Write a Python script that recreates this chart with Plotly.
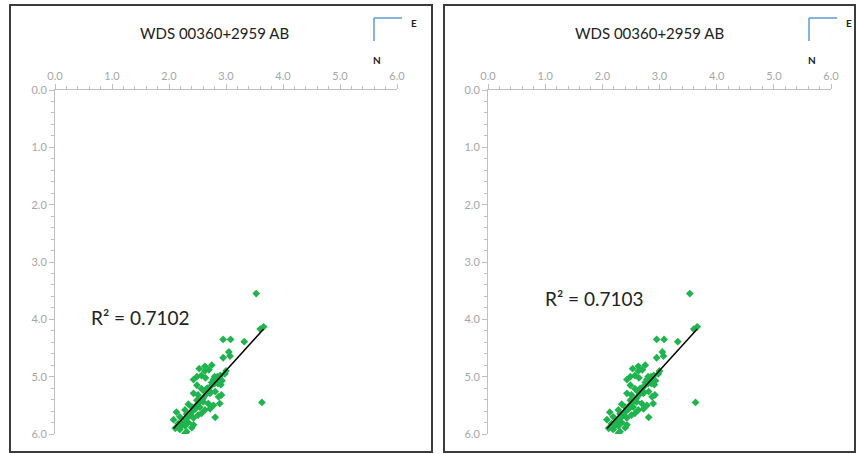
import numpy as np
import plotly.graph_objects as go

W, H = 857, 454

title_text = "WDS 00360+2959 AB"
r2_labels = ["R² = 0.7102", "R² = 0.7103"]
tick_vals = [0, 1, 2, 3, 4, 5, 6]

# Separation components (E, N)
x_vals = [3.53, 3.60, 3.66, 2.95, 3.08, 3.32, 3.05, 2.95, 3.07, 3.63,
          2.63, 2.75, 2.53, 2.63, 2.70, 2.49, 2.57, 2.64, 2.43, 2.80,
          2.85, 2.90, 2.78, 2.83, 2.88, 2.93, 2.80, 2.86, 2.91, 2.75,
          2.49, 2.57, 2.66, 2.72, 2.81, 2.87, 2.92, 2.89, 2.43, 2.51,
          2.49, 2.60, 2.34, 2.40, 2.46, 2.54, 2.63, 2.72, 2.78, 2.69,
          2.28, 2.31, 2.37, 2.43, 2.51, 2.57, 2.81, 2.13, 2.19, 2.08,
          2.16, 2.25, 2.34, 2.28, 2.19, 2.11, 2.31, 2.28, 2.43, 2.40,
          2.55, 2.60, 2.66, 2.70, 2.48, 2.52, 2.58, 2.36, 2.42, 2.22,
          2.26, 2.32, 2.38, 2.45, 2.68, 2.74, 2.62, 2.98, 3.00, 2.84]
y_vals = [3.55, 4.17, 4.13, 4.35, 4.35, 4.39, 4.57, 4.67, 4.64, 5.45,
          4.82, 4.80, 4.86, 4.90, 4.88, 5.00, 4.98, 5.02, 5.05, 5.00,
          5.00, 4.98, 5.05, 5.08, 5.04, 5.07, 5.12, 5.12, 5.14, 5.10,
          5.15, 5.21, 5.21, 5.29, 5.26, 5.35, 5.32, 5.47, 5.29, 5.32,
          5.41, 5.44, 5.48, 5.53, 5.56, 5.53, 5.58, 5.56, 5.50, 5.47,
          5.58, 5.65, 5.66, 5.72, 5.67, 5.64, 5.71, 5.62, 5.70, 5.75,
          5.82, 5.78, 5.80, 5.86, 5.92, 5.90, 5.96, 5.99, 5.84, 5.89,
          5.42, 5.37, 5.30, 5.24, 5.50, 5.46, 5.40, 5.67, 5.59, 5.86,
          5.80, 5.72, 5.63, 5.57, 5.20, 5.16, 5.26, 4.95, 4.90, 5.08]

xa = np.array(x_vals)
ya = np.array(y_vals)
slope, intercept = np.polyfit(xa, ya, 1)
fit_x = np.array([xa.min(), xa.max()])
fit_y = intercept + slope * fit_x

GREEN = "#1FB44E"
AX_COL = "#BFBFBF"
LBL_COL = "#A6A6A6"
FONT = "Lato, 'Open Sans', sans-serif"

def px_x(p):
    return p / W

def px_y(p):
    return 1 - p / H

panels = [
    dict(x0=55, x1=397, box=(10, 432), title_x=215, comp_x=374, r2=(140, 317)),
    dict(x0=488, x1=831, box=(444, 855), title_x=649, comp_x=809, r2=(594, 298)),
]
plot_top, plot_bot = 90, 434

fig = go.Figure()
shapes = []
annotations = []
layout_axes = {}

for i, p in enumerate(panels):
    suf = "" if i == 0 else str(i + 1)
    xa_name = "x" + suf
    ya_name = "y" + suf
    fig.add_trace(go.Scatter(x=x_vals, y=y_vals, mode="markers", xaxis=xa_name, yaxis=ya_name,
                             marker=dict(symbol="diamond", size=6, color=GREEN, line=dict(width=0)),
                             showlegend=False, hoverinfo="x+y"))
    fig.add_trace(go.Scatter(x=fit_x, y=fit_y, mode="lines", xaxis=xa_name, yaxis=ya_name,
                             line=dict(color="black", width=1.5), showlegend=False))
    common = dict(showline=True, linecolor=AX_COL, linewidth=1, automargin=False,
                  showgrid=False, zeroline=False, ticks="outside", ticklen=5,
                  tickcolor=AX_COL, tickvals=tick_vals, tickformat=".1f",
                  tickfont=dict(family=FONT, size=11, color=LBL_COL),
                  minor=dict(dtick=0.2, ticks="outside", ticklen=3, tickcolor=AX_COL, showgrid=False),
                  fixedrange=True)
    xax = dict(common)
    xax.update(range=[0, 6], side="top", anchor=ya_name,
               domain=[px_x(p["x0"]), px_x(p["x1"])])
    yax = dict(common)
    yax.update(range=[6, 0], side="left", anchor=xa_name,
               domain=[px_y(plot_bot), px_y(plot_top)])
    layout_axes["xaxis" + suf] = xax
    layout_axes["yaxis" + suf] = yax

    bx0, bx1 = p["box"]
    shapes.append(dict(type="rect", xref="paper", yref="paper",
                       x0=px_x(bx0), x1=px_x(bx1), y0=px_y(452), y1=px_y(5),
                       line=dict(color="#3C3C3C", width=2)))
    cx = p["comp_x"]
    shapes.append(dict(type="line", xref="paper", yref="paper",
                       x0=px_x(cx), x1=px_x(cx + 28), y0=px_y(18), y1=px_y(18),
                       line=dict(color="#5B9BD5", width=1.5)))
    shapes.append(dict(type="line", xref="paper", yref="paper",
                       x0=px_x(cx), x1=px_x(cx), y0=px_y(18), y1=px_y(41),
                       line=dict(color="#5B9BD5", width=1.5)))
    annotations.append(dict(text="<b>E</b>", xref="paper", yref="paper", x=px_x(cx + 40), y=px_y(23),
                            showarrow=False, font=dict(family=FONT, size=10, color="#222"),
                            xanchor="center", yanchor="middle"))
    annotations.append(dict(text="<b>N</b>", xref="paper", yref="paper", x=px_x(cx + 3), y=px_y(60),
                            showarrow=False, font=dict(family=FONT, size=10, color="#222"),
                            xanchor="center", yanchor="middle"))
    annotations.append(dict(text=title_text, xref="paper", yref="paper", x=px_x(p["title_x"]), y=px_y(33),
                            showarrow=False, font=dict(family=FONT, size=15, color="#222"),
                            xanchor="center", yanchor="middle"))
    annotations.append(dict(text=r2_labels[i], xref="paper", yref="paper", x=px_x(p["r2"][0]), y=px_y(p["r2"][1]),
                            showarrow=False, font=dict(family=FONT, size=19, color="#222"),
                            xanchor="center", yanchor="middle"))

fig.update_layout(width=W, height=H, margin=dict(l=0, r=0, t=0, b=0, pad=0),
                  paper_bgcolor="white", plot_bgcolor="white",
                  shapes=shapes, annotations=annotations, **layout_axes)

fig.write_html("out.html", include_plotlyjs=True, config={"displayModeBar": False})
